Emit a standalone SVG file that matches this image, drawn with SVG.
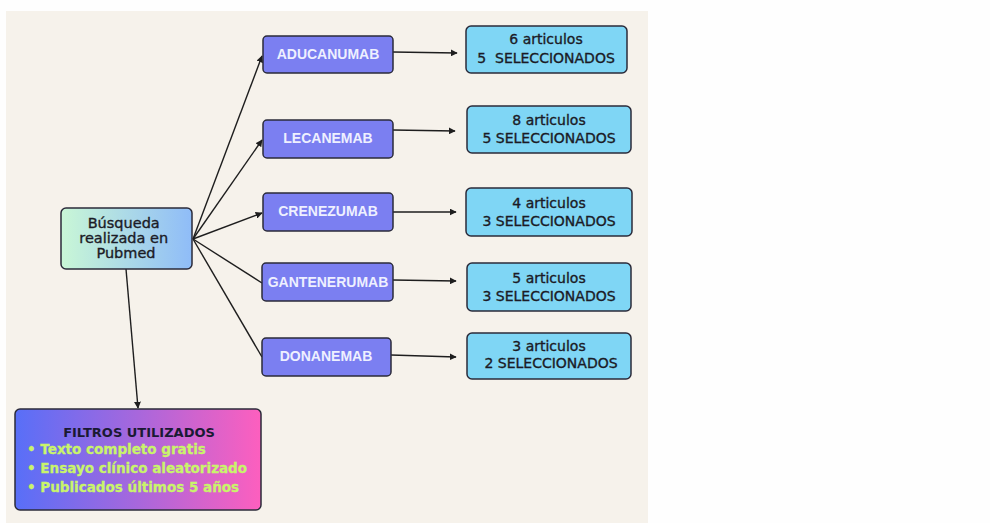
<svg xmlns="http://www.w3.org/2000/svg" width="990" height="523" viewBox="0 0 990 523">
<defs>
<linearGradient id="gSearch" x1="0" y1="0" x2="1" y2="0">
<stop offset="0" stop-color="#c9f7d6"/>
<stop offset="1" stop-color="#8fbcf8"/>
</linearGradient>
<linearGradient id="gFilter" x1="0" y1="0" x2="1" y2="0">
<stop offset="0" stop-color="#586ff8"/>
<stop offset="0.5" stop-color="#a867dc"/>
<stop offset="1" stop-color="#fd5fbe"/>
</linearGradient>
<marker id="ah" viewBox="0 0 10 10" refX="9" refY="5" markerWidth="7" markerHeight="7" markerUnits="userSpaceOnUse" orient="auto">
<path d="M0,0 L10,5 L0,10 z" fill="#1e1e1e"/>
</marker>
<style>
.drug{fill:#7b7ff1;stroke:#2b2b3a;stroke-width:1.5}
.res{fill:#7fd6f5;stroke:#2b2b3a;stroke-width:1.5}
.dl{font-family:"Liberation Sans",Arial,sans-serif;font-weight:bold;font-size:14px;fill:#eef0ff;text-anchor:middle}
.rl{font-family:"DejaVu Sans",sans-serif;font-size:14px;fill:#1b1b26;stroke:#1b1b26;stroke-width:0.35;text-anchor:middle;white-space:pre}
.con{fill:none;stroke:#1e1e1e;stroke-width:1.4}
</style>
</defs>
<rect x="0" y="0" width="990" height="523" fill="#fefefe"/>
<rect x="6" y="11" width="642" height="512" fill="#f6f2eb"/>
<g id="connectors">
<line class="con" x1="193" y1="239" x2="262" y2="56" marker-end="url(#ah)"/>
<line class="con" x1="193" y1="239" x2="262" y2="140" marker-end="url(#ah)"/>
<line class="con" x1="193" y1="239" x2="262" y2="213" marker-end="url(#ah)"/>
<line class="con" x1="193" y1="239" x2="262" y2="283"/>
<line class="con" x1="193" y1="239" x2="262" y2="357"/>
<line class="con" x1="126" y1="269" x2="138" y2="408" marker-end="url(#ah)"/>
<line class="con" x1="393" y1="52" x2="457" y2="53" marker-end="url(#ah)"/>
<line class="con" x1="393" y1="130" x2="455" y2="131" marker-end="url(#ah)"/>
<line class="con" x1="393" y1="212" x2="456" y2="212" marker-end="url(#ah)"/>
<line class="con" x1="393" y1="280" x2="456" y2="281" marker-end="url(#ah)"/>
<line class="con" x1="391" y1="355" x2="456" y2="357" marker-end="url(#ah)"/>
</g>
<g id="busqueda">
<rect x="61" y="208" width="131" height="61" rx="5" fill="url(#gSearch)" stroke="#2b2b3a" stroke-width="1.5"/>
<text font-family="DejaVu Sans,sans-serif" font-size="14.5" fill="#1b1b26" stroke="#1b1b26" stroke-width="0.35" text-anchor="middle">
<tspan x="126" y="228">Búsqueda</tspan>
<tspan x="126" y="243">realizada en</tspan>
<tspan x="126" y="258">Pubmed</tspan>
</text>
</g>
<g id="filtros">
<rect x="15" y="409" width="246" height="101" rx="5" fill="url(#gFilter)" stroke="#2b2b3a" stroke-width="1.5"/>
<text x="139" y="437" font-family="DejaVu Sans,sans-serif" font-weight="bold" font-size="13" fill="#1a1a33" text-anchor="middle">FILTROS UTILIZADOS</text>
<g font-family="DejaVu Sans,sans-serif" font-weight="bold" font-size="13.5" fill="#c9f46a" stroke="#c9f46a" stroke-width="0.3">
<text x="27" y="454">• Texto completo gratis</text>
<text x="27" y="473">• Ensayo clínico aleatorizado</text>
<text x="27" y="492">• Publicados últimos 5 años</text>
</g>
</g>
<g id="aducanumab">
<rect class="drug" x="263" y="36" width="130" height="37" rx="4"/>
<text class="dl" x="328" y="59">ADUCANUMAB</text>
</g>
<g id="lecanemab">
<rect class="drug" x="263" y="120" width="130" height="38" rx="4"/>
<text class="dl" x="328" y="143">LECANEMAB</text>
</g>
<g id="crenezumab">
<rect class="drug" x="263" y="193" width="130" height="38" rx="4"/>
<text class="dl" x="328" y="216">CRENEZUMAB</text>
</g>
<g id="gantenerumab">
<rect class="drug" x="262" y="263" width="131" height="38" rx="4"/>
<text class="dl" x="328" y="287">GANTENERUMAB</text>
</g>
<g id="donanemab">
<rect class="drug" x="262" y="338" width="129" height="38" rx="4"/>
<text class="dl" x="326" y="361">DONANEMAB</text>
</g>
<g id="res-aducanumab">
<rect class="res" x="466" y="26" width="161" height="47" rx="5"/>
<text class="rl" x="546" y="44">6 articulos</text>
<text class="rl" x="546" y="63">5  SELECCIONADOS</text>
</g>
<g id="res-lecanemab">
<rect class="res" x="467" y="106" width="164" height="47" rx="5"/>
<text class="rl" x="549" y="125">8 articulos</text>
<text class="rl" x="549" y="143">5 SELECCIONADOS</text>
</g>
<g id="res-crenezumab">
<rect class="res" x="466" y="188" width="166" height="48" rx="5"/>
<text class="rl" x="549" y="208">4 articulos</text>
<text class="rl" x="549" y="226">3 SELECCIONADOS</text>
</g>
<g id="res-gantenerumab">
<rect class="res" x="467" y="263" width="164" height="48" rx="5"/>
<text class="rl" x="549" y="283">5 articulos</text>
<text class="rl" x="549" y="301">3 SELECCIONADOS</text>
</g>
<g id="res-donanemab">
<rect class="res" x="467" y="333" width="164" height="46" rx="5"/>
<text class="rl" x="549" y="351">3 articulos</text>
<text class="rl" x="551" y="368">2 SELECCIONADOS</text>
</g>
</svg>
